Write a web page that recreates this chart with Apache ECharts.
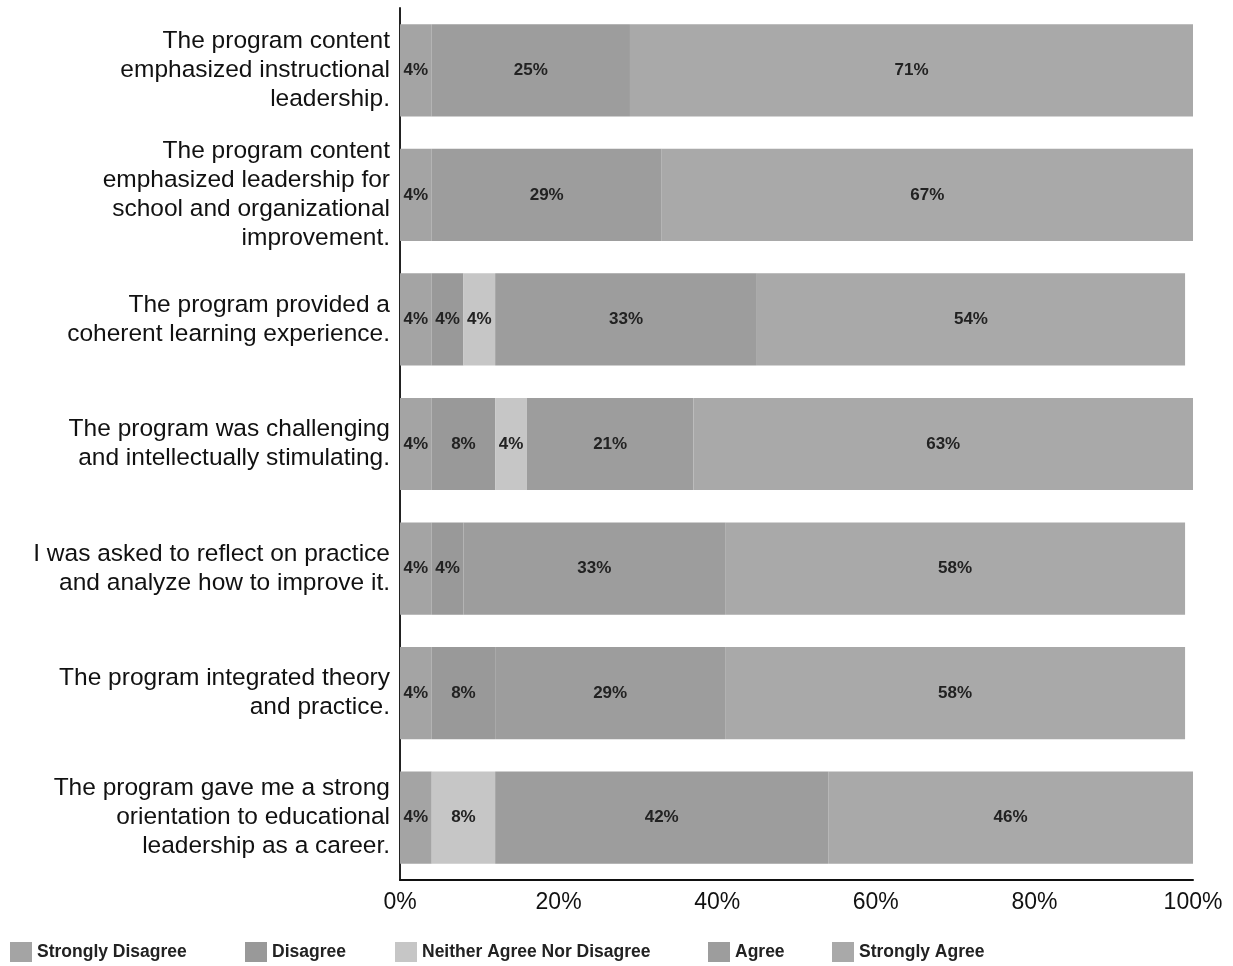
<!DOCTYPE html>
<html><head><meta charset="utf-8">
<script src="https://cdn.jsdelivr.net/npm/echarts@6/dist/echarts.min.js"></script>
<style>html,body{margin:0;padding:0;background:#fff}#c{width:1233px;height:966px}</style>
</head><body><div id="c"></div>
<script>
const categories = [
  "The program content\nemphasized instructional\nleadership.",
  "The program content\nemphasized leadership for\nschool and organizational\nimprovement.",
  "The program provided a\ncoherent learning experience.",
  "The program was challenging\nand intellectually stimulating.",
  "I was asked to reflect on practice\nand analyze how to improve it.",
  "The program integrated theory\nand practice.",
  "The program gave me a strong\norientation to educational\nleadership as a career."
];
const seriesNames = ["Strongly Disagree","Disagree","Neither Agree Nor Disagree","Agree","Strongly Agree"];
const stronglyDisagree = [4, 4, 4, 4, 4, 4, 4];
const disagree         = [0, 0, 4, 8, 4, 8, 0];
const neither          = [0, 0, 4, 4, 0, 0, 8];
const agree            = [25, 29, 33, 21, 33, 29, 42];
const stronglyAgree    = [71, 67, 54, 63, 58, 58, 46];

const colors = ["#a4a4a4", "#999999", "#c6c6c6", "#9d9d9d", "#a9a9a9"];
const values = [stronglyDisagree, disagree, neither, agree, stronglyAgree];
const legendLefts = [10, 245, 395, 708, 832];
const font = 'Liberation Sans, Arial, sans-serif';

const chart = echarts.init(document.getElementById('c'));
chart.setOption({
  animation: false,
  textStyle: { fontFamily: font },
  grid: { left: 400, right: 40, top: 8, bottom: 86, containLabel: false },
  legend: seriesNames.map((n, i) => ({
    left: legendLefts[i], top: 942, padding: 0, itemWidth: 22, itemHeight: 20,
    icon: 'rect',
    textStyle: { fontSize: 17.5, fontWeight: 'bold', color: '#222', fontFamily: font },
    data: [n]
  })),
  xAxis: {
    type: 'value', min: 0, max: 100, interval: 20,
    axisLine: { show: true, lineStyle: { color: '#111', width: 2 } },
    axisTick: { show: false },
    splitLine: { show: false },
    axisLabel: { fontSize: 23, color: '#111', margin: 11, formatter: v => v + '%' }
  },
  yAxis: {
    type: 'category', inverse: true, data: categories,
    axisLine: { show: true, lineStyle: { color: '#222', width: 2 } },
    axisTick: { show: false },
    axisLabel: { fontSize: 24.5, color: '#111', lineHeight: 29, align: 'right', margin: 10 }
  },
  series: seriesNames.map((n, i) => ({
    name: n, type: 'bar', stack: 'total', barWidth: '74%',
    data: values[i].map(v => v === 0 ? null : v),
    itemStyle: { color: colors[i] },
    label: {
      show: true, position: 'inside', formatter: p => p.value + '%',
      fontSize: 17, fontWeight: 'bold', color: '#222'
    }
  }))
});
</script></body></html>
